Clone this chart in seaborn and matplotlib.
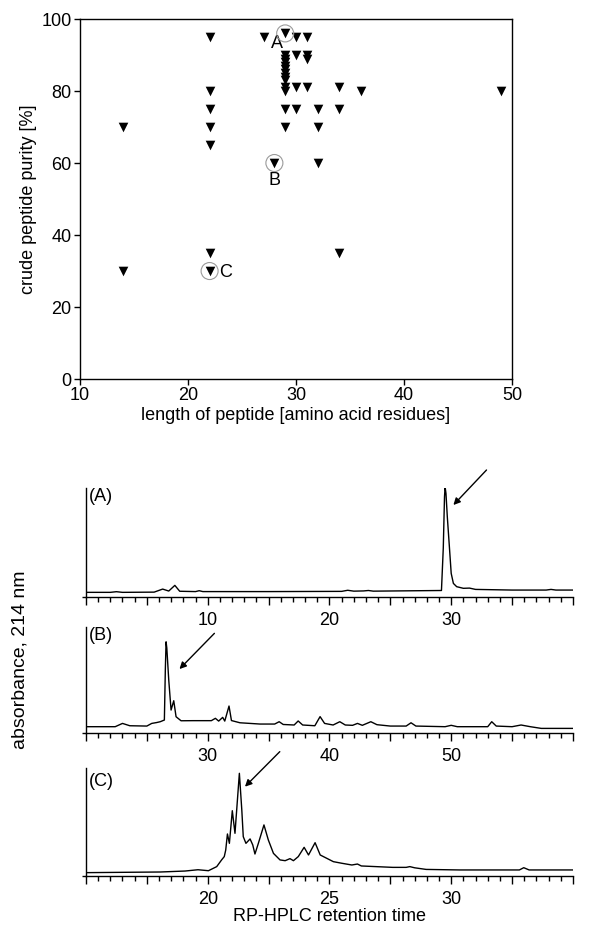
import matplotlib
matplotlib.use("Agg")
import matplotlib.pyplot as plt
import seaborn as sns
import pandas as pd

# --- peptide purity vs length (top panel) ---
pep_len = [14, 14,
           22, 22, 22, 22, 22, 22, 22,
           27, 28,
           29, 29, 29, 29, 29, 29, 29, 29, 29, 29, 29, 29, 29,
           30, 30, 30, 30,
           31, 31, 31, 31,
           32, 32, 32,
           34, 34, 34,
           36, 49]
purity = [70, 30,
          95, 80, 75, 70, 65, 35, 30,
          95, 60,
          96, 90, 89, 88, 87, 86, 85, 84, 83, 81, 80, 75, 70,
          95, 90, 81, 75,
          95, 90, 89, 81,
          75, 70, 60,
          81, 75, 35,
          80, 80]
marked_labels = ["A", "B", "C"]
marked_len = [29, 28, 22]
marked_purity = [96, 60, 30]

# --- chromatogram traces (time, absorbance in % of panel height) ---
a_time = [0, 2.0, 2.5, 3.0, 5.6, 6.3, 6.8, 7.3, 7.7, 9.0, 9.3, 9.6, 15.0, 21.0, 21.5,
          22.0, 22.8, 23.2, 23.6, 29.2, 29.35, 29.45, 29.5, 29.57, 29.68, 29.87, 30.0,
          30.18, 30.45, 31.0, 31.5, 32.0, 35.0, 37.8, 38.2, 38.6, 40.0]
a_abs = [4.3, 4.3, 4.9, 4.3, 4.5, 7.3, 5.5, 10.7, 5.3, 5.0, 5.8, 5.0, 5.0, 5.2, 6.2,
         5.4, 5.6, 6.0, 5.4, 6.0, 45, 92, 101, 95, 73.7, 43, 21.7,
         12.5, 9.5, 8.0, 8.2, 7.0, 6.4, 6.4, 7.0, 6.4, 6.4]

b_time = [20.0, 22.4, 23.0, 23.6, 25.0, 25.4, 25.8, 26.1, 26.44, 26.52, 26.58, 26.64,
          26.80, 26.99, 27.21, 27.40, 27.81, 28.8, 29.9, 30.3, 30.63, 30.9, 31.23, 31.4,
          31.75, 31.95, 32.65, 34.3, 35.5, 35.87, 36.2, 37.1, 37.43, 37.8, 38.8, 39.23,
          39.6, 40.3, 40.85, 41.3, 41.9, 42.3, 42.7, 43.4, 43.9, 45.0, 46.3, 46.7, 47.1,
          49.5, 50.0, 50.5, 53.0, 53.33, 53.7, 55.0, 55.74, 56.5, 57.4, 60.0]
b_abs = [5.7, 5.7, 8.8, 6.6, 6.3, 8.8, 9.6, 10.4, 12.0, 60, 85.8, 80,
         49.7, 21.4, 30.2, 15.1, 11.3, 11.4, 11.4, 11.4, 13.6, 11.0, 14.5, 11.0,
         25.2, 11.5, 9.4, 8.2, 8.2, 10.4, 7.8, 7.3, 11.1, 7.3, 6.6, 15.2,
         8.8, 7.3, 10.4, 7.3, 7.0, 8.8, 7.0, 10.4, 7.6, 6.3, 6.3, 9.4, 6.3,
         5.7, 7.0, 5.7, 5.7, 10.4, 6.3, 5.7, 7.3, 5.7, 4.1, 4.1]

c_time = [15.0, 18.05, 19.07, 19.6, 20.03, 20.37, 20.57, 20.68, 20.74, 20.81, 20.89,
          21.01, 21.12, 21.30, 21.40, 21.46, 21.57, 21.74, 21.85, 21.94, 22.08, 22.31,
          22.49, 22.70, 22.97, 23.18, 23.38, 23.52, 23.72, 23.96, 24.14, 24.41, 24.62,
          24.89, 25.16, 25.51, 25.92, 26.15, 26.31, 27.6, 28.15, 28.3, 28.5, 28.97,
          30.34, 32.8, 32.98, 33.2, 35.0]
c_abs = [3.1, 3.7, 4.6, 5.8, 4.9, 8.7, 14.9, 18.0, 24.1, 39.0, 30.3,
         60.6, 39.6, 95.3, 61.3, 36.5, 30.3, 34.4, 28.8, 20.4, 30.3, 47.4,
         33.4, 21.0, 14.9, 14.2, 16.1, 14.2, 18.0, 26.6, 19.5, 30.9, 19.5,
         16.4, 13.3, 11.8, 10.2, 11.1, 9.3, 8.0, 8.0, 8.7, 7.6, 6.1,
         5.6, 5.6, 7.7, 5.6, 5.6]

sns.set_style("ticks")
plt.rcParams['font.family'] = ['Liberation Sans', 'DejaVu Sans']
plt.rcParams['axes.edgecolor'] = 'black'
plt.rcParams['axes.labelcolor'] = 'black'
plt.rcParams['text.color'] = 'black'
plt.rcParams['xtick.color'] = 'black'
plt.rcParams['ytick.color'] = 'black'
plt.rcParams['axes.linewidth'] = 1.0
FS = 13

fig = plt.figure(figsize=(5.97, 9.32), dpi=100)

# scatter
ax = fig.add_axes([0.134, 0.5933, 0.7236, 0.3863])
df = pd.DataFrame({"length": pep_len, "purity": purity})
sns.scatterplot(data=df, x="length", y="purity", marker="v", color="black",
                s=48, edgecolor="black", linewidth=0, ax=ax, zorder=3)
ax.scatter(marked_len, marked_purity, s=150, facecolors="none",
           edgecolors="#9a9a9a", linewidths=0.8, zorder=4)
label_pos = [(28.25, 93.2), (28.0, 55.2), (23.45, 29.5)]
for lab, (lx, ly) in zip(marked_labels, label_pos):
    ax.text(lx, ly, lab, fontsize=FS, ha="center", va="center")
ax.set_xlim(10, 50)
ax.set_ylim(0, 100)
ax.set_xticks(range(10, 51, 10))
ax.set_yticks(range(0, 101, 20))
ax.tick_params(direction="out", length=4, width=1, labelsize=FS, pad=2)
ax.set_xlabel("length of peptide [amino acid residues]", fontsize=FS, labelpad=2)
ax.set_ylabel("crude peptide purity [%]", fontsize=FS, labelpad=3)

# chromatograms
panels = [
    ("(A)", a_time, a_abs, (0, 40), 5, 1, [10, 20, 30],
     [0.144, 0.3594, 0.8157, 0.117], ((30.18, 84.4), (32.9, 116.5)), 1.0),
    ("(B)", b_time, b_abs, (20, 60), 5, 1, [30, 40, 50],
     [0.144, 0.2138, 0.8157, 0.1137], ((27.68, 60.1), (30.55, 93.8)), 1.0),
    ("(C)", c_time, c_abs, (15, 35), 2.5, 0.5, [20, 25, 30],
     [0.144, 0.0601, 0.8157, 0.1156], ((21.53, 82.9), (22.96, 115.4)), 0.955),
]
for name, t, v, xl, major, minor, labelled, rect, arrow, ty in panels:
    cax = fig.add_axes(rect)
    sns.lineplot(x=t, y=v, ax=cax, color="black", lw=1.0, estimator=None)
    cax.set_xlim(*xl)
    cax.set_ylim(0, 100)
    n_major = int(round((xl[1] - xl[0]) / major))
    majors = [xl[0] + i * major for i in range(n_major + 1)]
    n_minor = int(round((xl[1] - xl[0]) / minor))
    minors = [xl[0] + i * minor for i in range(n_minor + 1)]
    cax.set_xticks(majors)
    cax.set_xticklabels([str(int(m)) if m in labelled else "" for m in majors])
    cax.set_xticks(minors, minor=True)
    cax.set_yticks([0])
    cax.set_yticklabels([""])
    cax.tick_params(axis="x", which="major", direction="out", length=6, width=1,
                    labelsize=FS, pad=5)
    cax.tick_params(axis="x", which="minor", direction="out", length=3.5, width=1)
    cax.tick_params(axis="y", direction="out", length=3, width=1)
    for side in ("top", "right"):
        cax.spines[side].set_visible(False)
    cax.set_xlabel("")
    cax.set_ylabel("")
    cax.text(0.005, ty, name, transform=cax.transAxes, fontsize=FS,
             ha="left", va="top")
    cax.annotate("", xy=arrow[0], xytext=arrow[1],
                 arrowprops=dict(arrowstyle="-|>", color="black", lw=1.0,
                                 mutation_scale=10, shrinkA=0, shrinkB=0),
                 annotation_clip=False)

fig.text(0.034, 0.292, "absorbance, 214 nm", rotation=90, fontsize=FS + 1,
         ha="center", va="center")
fig.text(0.552, 0.017, "RP-HPLC retention time", fontsize=FS,
         ha="center", va="center")

fig.savefig("out.png", dpi=100)
